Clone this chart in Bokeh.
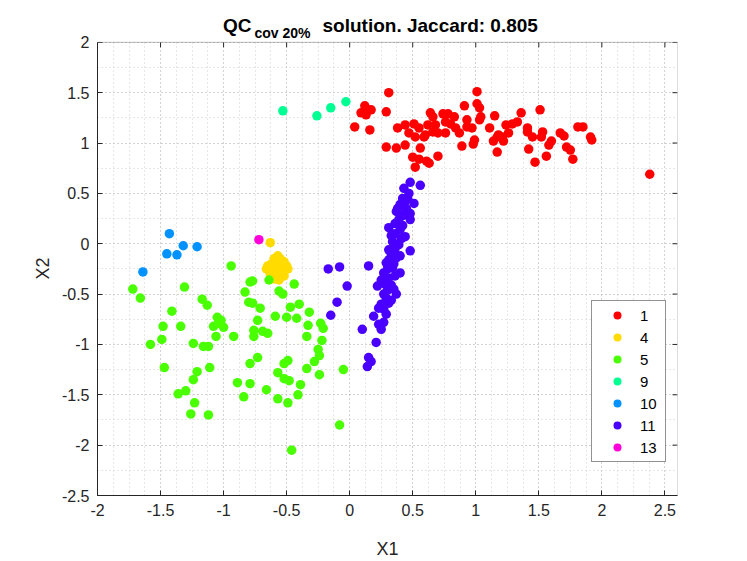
from bokeh.plotting import figure
from bokeh.models import (Range1d, FixedTicker, Title, Legend, Label, BoxAnnotation)
from bokeh.embed import file_html
from bokeh.resources import INLINE

# ---------------- data ----------------
cluster_labels = ["1", "4", "5", "9", "10", "11", "13"]
cluster_colors = ["#FF0000", "#FFDB00", "#49FF00", "#00FF92", "#0092FF", "#4900FF", "#FF00DB"]

c1_x = [0.31, 0.12, 0.17, 0.09, 0.13, 0.29, 0.04, 0.16, 0.38, 0.44, 0.51, 0.47, 0.52, 0.59,
        0.62, 0.64, 0.66, 0.68, 0.70, 0.74, 0.76, 0.76, 0.83, 0.80, 0.84, 0.87, 0.91, 0.93,
        0.93, 0.97, 0.99, 0.98, 0.89, 1.01, 1.01, 1.03, 1.04, 1.03, 1.15, 1.11, 1.17, 1.14,
        1.17, 0.29, 0.37, 0.44, 0.56, 0.50, 0.55, 0.61, 0.63, 0.52, 0.70, 0.60, 0.66, 0.55,
        0.78, 1.51, 1.36, 1.24, 1.29, 1.33, 1.26, 1.21, 1.18, 1.22, 1.41, 1.41, 1.45, 1.53,
        1.52, 1.60, 1.58, 1.67, 1.70, 1.72, 1.75, 1.77, 1.81, 1.85, 1.91, 1.92, 1.42, 1.56,
        1.47, 2.38]
c1_y = [1.50, 1.37, 1.33, 1.30, 1.28, 1.31, 1.16, 1.13, 1.15, 1.18, 1.19, 1.10, 1.06, 1.06,
        1.18, 1.30, 1.26, 1.18, 1.10, 1.29, 1.21, 1.10, 1.26, 1.19, 1.15, 1.10, 1.37, 1.23,
        1.16, 1.15, 1.03, 0.99, 0.97, 1.51, 1.39, 1.35, 1.26, 1.23, 1.27, 1.15, 1.06, 1.02,
        0.91, 0.96, 0.95, 0.98, 0.95, 0.86, 0.84, 0.82, 0.80, 0.76, 0.87, 1.08, 1.11, 1.15,
        1.29, 1.33, 1.30, 1.18, 1.19, 1.21, 1.10, 1.06, 1.08, 1.02, 1.15, 1.11, 1.06, 1.11,
        1.06, 1.02, 0.98, 1.10, 1.07, 0.96, 0.93, 0.84, 1.16, 1.16, 1.06, 1.03, 0.94, 0.87,
        0.81, 0.69]

c4_x = [-0.63, -0.57, -0.55, -0.60, -0.52, -0.62, -0.58, -0.54, -0.50, -0.66, -0.61, -0.57,
        -0.53, -0.49, -0.63, -0.59, -0.55, -0.60, -0.56, -0.52, -0.65]
c4_y = [0.01, -0.12, -0.15, -0.15, -0.18, -0.20, -0.20, -0.22, -0.22, -0.25, -0.25, -0.26,
        -0.27, -0.25, -0.30, -0.30, -0.31, -0.35, -0.36, -0.32, -0.22]

c5_x = [-0.94, -1.72, -1.66, -1.31, -1.17, -1.13, -1.41, -1.48, -1.34, -1.49, -1.58, -1.24,
        -1.16, -1.12, -1.05, -1.04, -1.08, -1.00, -1.06, -0.92, -1.47, -1.21, -1.11, -1.24,
        -1.30, -1.36, -1.23, -1.26, -1.12, -0.79, -0.77, -0.83, -0.64, -0.44, -0.56, -0.53,
        -0.80, -0.77, -0.71, -0.47, -0.40, -0.32, -0.59, -0.50, -0.42, -0.73, -0.33, -0.23,
        -0.21, -0.76, -0.69, -0.65, -0.76, -0.34, -0.22, -0.25, -0.24, -0.28, -0.34, -0.24,
        -0.05, -0.73, -0.79, -0.52, -0.49, -0.57, -0.52, -0.48, -0.39, -0.89, -0.79, -0.66,
        -0.84, -0.57, -0.49, -0.41, -0.08, -0.46, -1.02]
c5_y = [-0.22, -0.45, -0.54, -0.43, -0.55, -0.61, -0.67, -0.82, -0.82, -0.95, -1.00, -0.99,
        -1.02, -1.02, -0.73, -0.79, -0.82, -0.83, -0.92, -0.92, -1.23, -1.27, -1.23, -1.35,
        -1.46, -1.49, -1.58, -1.69, -1.70, -0.38, -0.37, -0.48, -0.36, -0.40, -0.47, -0.50,
        -0.58, -0.59, -0.64, -0.63, -0.60, -0.68, -0.72, -0.73, -0.74, -0.76, -0.81, -0.79,
        -0.84, -0.86, -0.87, -0.89, -0.92, -0.92, -0.96, -1.05, -1.11, -1.17, -1.24, -1.30,
        -1.25, -1.13, -1.19, -1.19, -1.16, -1.28, -1.34, -1.36, -1.40, -1.38, -1.39, -1.45,
        -1.52, -1.54, -1.58, -1.50, -1.80, -2.05, -0.76]

c9_x = [-0.53, -0.26, -0.15, -0.03]
c9_y = [1.32, 1.27, 1.35, 1.41]

c10_x = [-1.43, -1.32, -1.21, -1.45, -1.37, -1.64]
c10_y = [0.10, -0.02, -0.03, -0.10, -0.11, -0.28]

c11_x = [0.48, 0.56, 0.47, 0.44, 0.40, 0.51, 0.37, 0.44, 0.48, 0.39, 0.31, 0.40, 0.44, 0.34,
         0.39, 0.48, 0.31, 0.37, 0.29, 0.34, 0.27, 0.40, 0.31, 0.25, 0.33, 0.22, 0.30, 0.37,
         0.29, 0.25, 0.31, 0.27, 0.19, 0.23, 0.27, 0.10, 0.21, 0.15, 0.17, 0.14, 0.15, -0.17,
         -0.08, -0.02, -0.10, -0.15, 0.42, 0.45, 0.42, 0.36, 0.42, 0.36, 0.33, 0.41, 0.36,
         0.33, 0.40, 0.31, 0.35, 0.30, 0.36, 0.28, 0.35, 0.27, 0.33, 0.23, 0.29, 0.25, 0.43,
         0.46, 0.48, 0.38]
c11_y = [0.61, 0.58, 0.50, 0.42, 0.39, 0.40, 0.32, 0.30, 0.24, 0.24, 0.16, 0.14, 0.07, 0.02,
         -0.01, -0.07, -0.06, -0.14, -0.19, -0.24, -0.29, -0.29, -0.34, -0.36, -0.41, -0.42,
         -0.46, -0.50, -0.54, -0.60, -0.59, -0.65, -0.72, -0.80, -0.78, -0.85, -0.98, -1.13,
         -1.17, -1.22, -0.22, -0.25, -0.23, -0.42, -0.58, -0.71, 0.45, 0.35, 0.28, 0.20, 0.18,
         0.10, 0.08, 0.05, -0.05, -0.10, -0.12, -0.16, -0.20, -0.25, -0.32, -0.40, -0.45,
         -0.50, -0.56, -0.64, -0.70, -0.85, 0.55, 0.45, 0.30, 0.35]

c13_x = [-0.72]
c13_y = [0.04]

x_ticks = [-2, -1.5, -1, -0.5, 0, 0.5, 1, 1.5, 2, 2.5]
y_ticks = [-2.5, -2, -1.5, -1, -0.5, 0, 0.5, 1, 1.5, 2]
x_minor = [-2 + 0.125 * i for i in range(37)]
y_minor = [-2.5 + 0.25 * i for i in range(19)]

title_main = "QC"
title_sub = "cov 20%"
title_rest = "solution. Jaccard: 0.805"
x_label = "X1"
y_label = "X2"

series = [(c1_x, c1_y), (c4_x, c4_y), (c5_x, c5_y), (c9_x, c9_y),
          (c10_x, c10_y), (c11_x, c11_y), (c13_x, c13_y)]

# ---------------- geometry ----------------
X0, X1 = -2.0, 2.6          # axes box limits
Y0, Y1 = -2.5, 2.0
FRAME_L, FRAME_R, FRAME_B = 97, 677, 497     # pixels of the axes box
BOX_TOP_PX = 42
PX_PER_Y = (FRAME_B - BOX_TOP_PX) / (Y1 - Y0)
PX_PER_X = (FRAME_R - FRAME_L) / (X1 - X0)
Y_TOP = Y1 + BOX_TOP_PX / PX_PER_Y           # frame extends up to the canvas top (room for title)


def px_x(px):
    return X0 + (px - FRAME_L) / PX_PER_X


def px_y(py):
    return Y1 + (BOX_TOP_PX - py) / PX_PER_Y


# ---------------- figure ----------------
FONT = "Liberation Sans"
AX_COL = "#262626"
p = figure(width=747, height=561, output_backend="svg", toolbar_location=None,
           x_range=Range1d(X0, X1), y_range=Range1d(Y0, Y_TOP),
           min_border_left=FRAME_L, min_border_right=747 - FRAME_R, min_border_top=0,
           min_border_bottom=561 - FRAME_B,
           background_fill_color="white", border_fill_color="white")
p.outline_line_color = None

for ax in (p.xaxis[0], p.yaxis[0]):
    ax.major_tick_in = 5
    ax.major_tick_out = 0
    ax.minor_tick_line_color = None
    ax.major_label_text_font = FONT
    ax.major_label_text_font_size = "16px"
    ax.major_label_text_color = AX_COL
    ax.axis_label_text_font = FONT
    ax.axis_label_text_font_size = "18px"
    ax.axis_label_text_font_style = "normal"
    ax.axis_label_text_color = AX_COL
    ax.axis_line_color = AX_COL
    ax.major_tick_line_color = AX_COL
    ax.major_label_standoff = 8

p.xaxis[0].ticker = FixedTicker(ticks=x_ticks)
p.yaxis[0].ticker = FixedTicker(ticks=y_ticks)
p.yaxis[0].bounds = (Y0, Y1)
p.xaxis[0].major_label_overrides = {t: ("%g" % t) for t in x_ticks}
p.yaxis[0].major_label_overrides = {t: ("%g" % t) for t in y_ticks}
p.xaxis[0].axis_label = x_label
p.xaxis[0].axis_label_standoff = 20

# y axis title, placed along the left side (offset measured from the frame bottom)
p.add_layout(Title(text=y_label, align="left", offset=216, standoff=12,
                   vertical_align="bottom", text_font=FONT, text_font_size="18px",
                   text_font_style="normal", text_color=AX_COL), "left")

p.xgrid.ticker = FixedTicker(ticks=x_ticks, minor_ticks=x_minor)
p.ygrid.ticker = FixedTicker(ticks=y_ticks, minor_ticks=y_minor)
for g in (p.xgrid[0], p.ygrid[0]):
    g.grid_line_color = "#BDBDBD"
    g.grid_line_dash = "1 3"
    g.grid_line_width = 1
    g.minor_grid_line_color = "#CFCFCF"
    g.minor_grid_line_dash = "1 3"
    g.minor_grid_line_width = 1

renderers = []
for (xs, ys), lab, col in zip(series, cluster_labels, cluster_colors):
    r = p.scatter(xs, ys, marker="circle", size=9.5, fill_color=col, line_color=None)
    renderers.append((lab, [r]))

# top-edge and right-edge ticks (pointing inward), from the tick lists
tick_len_y = 5 / PX_PER_Y
tick_len_x = 5 / PX_PER_X
p.segment(x0=x_ticks, x1=x_ticks, y0=[Y1] * len(x_ticks), y1=[Y1 - tick_len_y] * len(x_ticks),
          line_color=AX_COL, line_width=1)
p.segment(x0=[X1] * len(y_ticks), x1=[X1 - tick_len_x] * len(y_ticks), y0=y_ticks, y1=y_ticks,
          line_color=AX_COL, line_width=1)

# white area above the axes box (hides grid there) and the box outline
p.add_layout(BoxAnnotation(left=X0, right=X1, bottom=Y1, top=Y_TOP, fill_color="white",
                           fill_alpha=1, line_color=None))
p.add_layout(BoxAnnotation(left=X0, right=X1, bottom=Y0, top=Y1, fill_alpha=0,
                           line_color=AX_COL, line_width=1))

legend = Legend(items=renderers, location=(494, 33))
legend.border_line_color = AX_COL
legend.border_line_width = 1
legend.background_fill_color = "white"
legend.background_fill_alpha = 1
legend.label_text_font = FONT
legend.label_text_font_size = "15px"
legend.label_text_color = "black"
legend.padding = 4
legend.spacing = 2
legend.label_height = 20
legend.glyph_height = 20
legend.glyph_width = 42
legend.label_standoff = 2
legend.label_width = 21
legend.margin = 0
p.add_layout(legend, "center")

# title: main text, subscript, rest (baselines in pixels from the top)
title_parts = [
    (title_main, 222.5, 25.0, "19px"),
    (title_sub, 254.0, 33.0, "14px"),
    (title_rest, 322.0, 25.0, "19px"),
]
for txt, tx, ty, fs in title_parts:
    p.add_layout(Label(x=px_x(tx), y=px_y(ty), text=txt, text_font=FONT, text_font_size=fs,
                       text_font_style="bold", text_color="black",
                       text_baseline="alphabetic", text_align="left"))

open("out.html", "w").write(file_html(p, INLINE))
